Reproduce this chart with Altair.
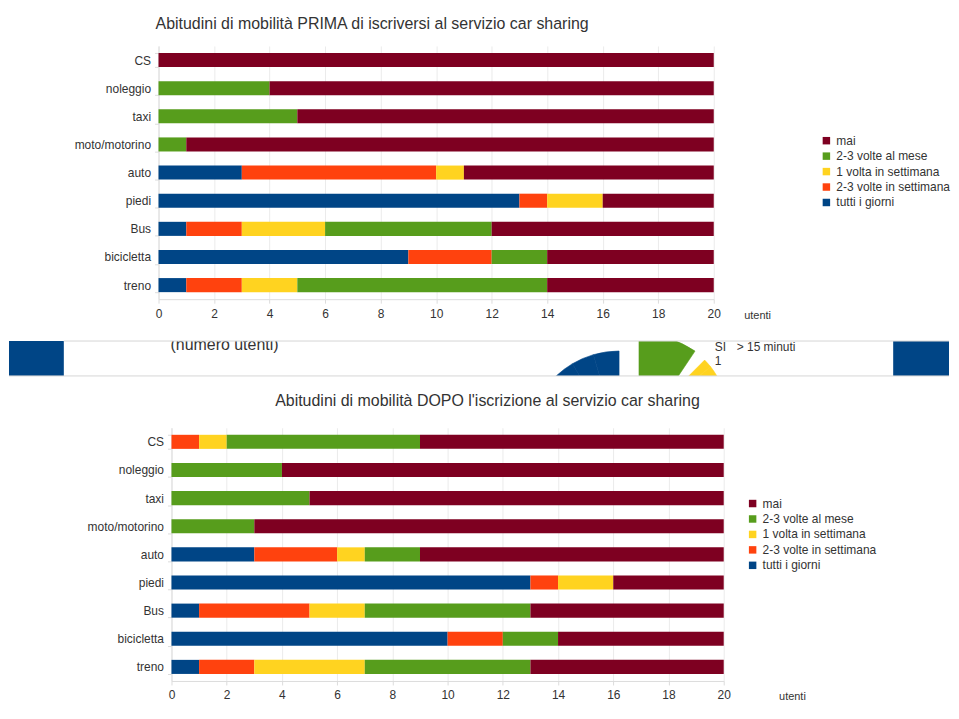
import altair as alt
import pandas as pd

categories = ["CS", "noleggio", "taxi", "moto/motorino", "auto", "piedi", "Bus", "bicicletta", "treno"]
series = ["tutti i giorni", "2-3 volte in settimana", "1 volta in settimana", "2-3 volte al mese", "mai"]
legend_order = ["mai", "2-3 volte al mese", "1 volta in settimana", "2-3 volte in settimana", "tutti i giorni"]
legend_colors = ["#7E0021", "#579D1C", "#FFD320", "#FF420E", "#004586"]

prima_tutti = [0, 0, 0, 0, 3, 13, 1, 9, 1]
prima_23sett = [0, 0, 0, 0, 7, 1, 2, 3, 2]
prima_1sett = [0, 0, 0, 0, 1, 2, 3, 0, 2]
prima_23mese = [0, 4, 5, 1, 0, 0, 6, 2, 9]
prima_mai = [20, 16, 15, 19, 9, 4, 8, 6, 6]

dopo_tutti = [0, 0, 0, 0, 3, 13, 1, 10, 1]
dopo_23sett = [1, 0, 0, 0, 3, 1, 4, 2, 2]
dopo_1sett = [1, 0, 0, 0, 1, 2, 2, 0, 4]
dopo_23mese = [7, 4, 5, 3, 2, 0, 6, 2, 6]
dopo_mai = [11, 16, 15, 17, 11, 4, 7, 6, 7]

x_ticks = [0, 2, 4, 6, 8, 10, 12, 14, 16, 18, 20]

title_prima = "Abitudini di mobilità PRIMA di iscriversi al servizio car sharing"
title_dopo = "Abitudini di mobilità DOPO l'iscrizione al servizio car sharing"

FONT = "Liberation Sans"
TXT = "#333333"
GRID = "#ebebeb"
AXC = "#dcdcdc"


def long_df(cols):
    rows = []
    for si, (s, vals) in enumerate(zip(series, cols)):
        for c, v in zip(categories, vals):
            rows.append({"cat": c, "series": s, "value": v, "ord": si})
    return pd.DataFrame(rows)


df_prima = long_df([prima_tutti, prima_23sett, prima_1sett, prima_23mese, prima_mai])
df_dopo = long_df([dopo_tutti, dopo_23sett, dopo_1sett, dopo_23mese, dopo_mai])


def bars(df, x_range, y_offset, legend_x, legend_y, ut_x):
    return alt.Chart(df).mark_bar().encode(
        x=alt.X("value:Q", stack="zero",
                scale=alt.Scale(domain=[0, 20], nice=False, range=x_range),
                axis=alt.Axis(values=x_ticks, title="utenti", titleX=ut_x, titleY=16,
                              titleAlign="left", titleBaseline="middle", titleAngle=0,
                              titleFontWeight="normal", titleFontSize=11, titleFont=FONT,
                              titleColor=TXT, labelFontSize=12, labelFont=FONT, labelColor=TXT,
                              labelFlush=False,
                              grid=True, gridColor=GRID, domainColor=AXC,
                              tickColor=AXC, tickSize=4, labelPadding=5)),
        y=alt.Y("cat:N", sort=categories,
                scale=alt.Scale(paddingInner=0.5, paddingOuter=0.25),
                axis=alt.Axis(title=None, labelFontSize=12, labelFont=FONT, labelColor=TXT,
                              domainColor=AXC, tickColor=AXC, tickSize=4, offset=y_offset,
                              tickBand="extent", labelPadding=4)),
        color=alt.Color("series:N",
                        scale=alt.Scale(domain=legend_order, range=legend_colors),
                        legend=alt.Legend(title=None, orient="none", legendX=legend_x, legendY=legend_y,
                                          symbolType="square", symbolSize=56, symbolStrokeWidth=0,
                                          labelFontSize=12, labelFont=FONT, labelColor=TXT,
                                          rowPadding=3.5, labelOffset=4, padding=0)),
        order=alt.Order("ord:Q"),
    )


# ---- decorative fragment of the slide that shows between the two charts
# (pixel positions relative to the top chart's plot origin)
dummy = pd.DataFrame({"d": [0]})
deco = alt.Chart(dummy)
S0, S1 = 296, 331          # strip top / bottom
BX, BY = 462, 398          # blue slice centre
GX, GY = 482, 390          # green slice centre
YX, YY = 492, 371          # yellow slice centre


def arc(color, cx, cy, t1, t2, r, r2):
    return deco.mark_arc(color=color, theta=t1, theta2=t2, radius=r, radius2=r2,
                         stroke=color, strokeWidth=0.6).encode(x=alt.value(cx), y=alt.value(cy))


def rect(color, x1, x2, y1, y2):
    return deco.mark_rect(color=color).encode(
        x=alt.value(x1), x2=alt.value(x2), y=alt.value(y1), y2=alt.value(y2))


layers = [
    arc("#004586", BX, BY, 6.0, 6.2832, 92, 67),
    arc("#004586", BX, BY, 5.75, 6.0, 92, 69),
    arc("#004586", BX, BY, 5.53, 5.75, 92, 78),
    arc("#579D1C", GX, GY, 0.0, 0.59, 101, 59),
    arc("#FFD320", YX, YY, 0.785, 0.9, 79, 56),
    arc("#FFD320", YX, YY, 0.9, 1.04, 79, 64),
    rect("white", 380, 600, S1, S1 + 11),
    deco.mark_text(text="(numero utenti)", font=FONT, fontSize=16, color=TXT,
                   align="left", baseline="alphabetic").encode(x=alt.value(12), y=alt.value(S0 + 9)),
    rect("white", 0, 140, S0 - 14, S0),
    rect("white", 470, 570, S0 - 14, S0),
    rect("#004586", -150, -95, S0, S1),
    rect("#004586", 737, 793, S0, S1),
    deco.mark_rule(color="#d6d6d6").encode(x=alt.value(-95), x2=alt.value(793), y=alt.value(S0)),
    deco.mark_rule(color="#d6d6d6").encode(x=alt.value(-150), x2=alt.value(793), y=alt.value(S1)),
    deco.mark_text(text="SI", font=FONT, fontSize=12, color=TXT, align="left",
                   baseline="middle").encode(x=alt.value(558), y=alt.value(S0 + 6)),
    deco.mark_text(text="1", font=FONT, fontSize=12, color=TXT, align="left",
                   baseline="middle").encode(x=alt.value(558), y=alt.value(S0 + 20)),
    deco.mark_text(text="> 15 minuti", font=FONT, fontSize=12, color=TXT, align="left",
                   baseline="middle").encode(x=alt.value(580), y=alt.value(S0 + 6)),
]

top = alt.layer(bars(df_prima, [0, 557], 0, 664, 89, 587), *layers).properties(
    width=557, height=254,
    title=alt.TitleParams(title_prima, anchor="start", frame="group", dx=-3, offset=8,
                          fontSize=16, fontWeight="normal", font=FONT, color=TXT),
)

bottom = bars(df_dopo, [13, 567], -13, 590, 70, 622).properties(
    width=567, height=254,
    title=alt.TitleParams(title_dopo, anchor="start", frame="group", dx=117, offset=13,
                          fontSize=16, fontWeight="normal", font=FONT, color=TXT),
)

chart = alt.vconcat(top, bottom, spacing=5).resolve_scale(
    color="independent"
).resolve_legend(color="independent").properties(
    padding={"left": 0, "top": 7, "right": 0, "bottom": 0}
).configure(background="white").configure_view(stroke=None)

chart.save("out.html", embed_options={"renderer": "svg", "actions": False})
